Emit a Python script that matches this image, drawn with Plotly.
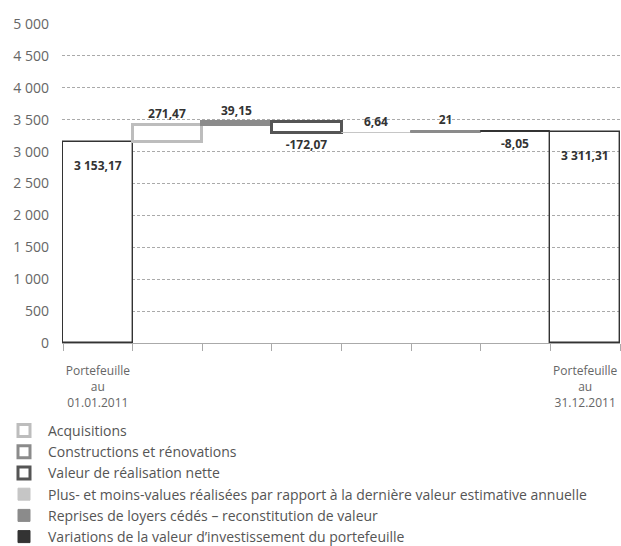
import plotly.graph_objects as go

# ---------------- data ----------------
categories = [
    "Portefeuille au 01.01.2011",
    "Acquisitions",
    "Constructions et rénovations",
    "Valeur de réalisation nette",
    "Plus- et moins-values réalisées par rapport à la dernière valeur estimative annuelle",
    "Reprises de loyers cédés – reconstitution de valeur",
    "Variations de la valeur d’investissement du portefeuille",
    "Portefeuille au 31.12.2011",
]
start_value = 3153.17
changes = [271.47, 39.15, -172.07, 6.64, 21, -8.05]
end_value = 3311.31
x_tick_text = ["Portefeuille<br>au<br>01.01.2011", "", "", "", "", "", "", "Portefeuille<br>au<br>31.12.2011"]
y_tick_values = list(range(0, 5001, 500))

# ---------------- styles ----------------
change_fill = ["white", "white", "white", "#c6c6c6", "#8b8b8b", "#333333"]
change_line = ["#bdbdbd", "#8b8b8b", "#555555", "#c6c6c6", "#8b8b8b", "#333333"]
change_line_w = [3, 3, 3, 1, 1, 1]
FONT = "Open Sans"


def fr(v):
    s = f"{abs(v):,.2f}".replace(",", " ").replace(".", ",")
    if s.endswith(",00"):
        s = s[:-3]
    return ("-" if v < 0 else "") + s


fig = go.Figure()

# opening portfolio
fig.add_trace(go.Bar(
    x=[categories[0]], y=[start_value], base=[0],
    marker=dict(color="white", line=dict(color="#333333", width=1.4)),
    showlegend=False, cliponaxis=False,
))

# changes
running = start_value
for i, d in enumerate(changes):
    fig.add_trace(go.Bar(
        x=[categories[i + 1]], y=[d], base=[running],
        name=categories[i + 1],
        marker=dict(color=change_fill[i], line=dict(color=change_line[i], width=change_line_w[i])),
        text=[fr(d)], textposition="outside",
        textfont=dict(family=FONT, size=12, color="#333333", weight="bold"),
        cliponaxis=False,
    ))
    running += d

# closing portfolio
fig.add_trace(go.Bar(
    x=[categories[-1]], y=[end_value], base=[0],
    marker=dict(color="rgba(0,0,0,0)", line=dict(color="#333333", width=1.4)),
    showlegend=False, cliponaxis=False,
))

for cat, v in [(categories[0], start_value), (categories[-1], end_value)]:
    fig.add_annotation(
        x=cat, y=v, text=fr(v), showarrow=False, yanchor="top", yshift=-13,
        font=dict(family=FONT, size=12, color="#333333", weight="bold"),
    )

fig.update_layout(
    width=621, height=546,
    margin=dict(l=62, r=1, t=24, b=203, autoexpand=False),
    paper_bgcolor="white", plot_bgcolor="white",
    barmode="overlay", bargap=0,
    separators=", ",
    font=dict(family=FONT, color="#666666"),
    legend=dict(
        x=0, y=1 - 415 / 546, xref="container", yref="container",
        xanchor="left", yanchor="top",
        font=dict(family=FONT, size=14, color="#555555"),
        itemwidth=38, traceorder="normal",
        bgcolor="rgba(0,0,0,0)",
    ),
    xaxis=dict(
        type="category", categoryorder="array", categoryarray=categories,
        range=[-0.515, len(categories) - 0.5],
        tickmode="array", tickvals=categories, ticktext=x_tick_text,
        tickson="boundaries", ticks="outside", ticklen=7, tickcolor="#aaaaaa",
        showline=True, linecolor="#aaaaaa", linewidth=1,
        showgrid=False, zeroline=False, tickangle=0,
        tickfont=dict(family=FONT, size=12, color="#666666"),
        ticklabelstandoff=17, automargin=False,
    ),
    yaxis=dict(
        range=[0, 5000], tickmode="array", tickvals=y_tick_values,
        tickformat=",d",
        showgrid=True, gridcolor="#aaaaaa", griddash="3px,2px", gridwidth=1,
        zeroline=False, showline=False, ticks="",
        tickfont=dict(family=FONT, size=14, color="#666666"),
        ticklabelstandoff=12, automargin=False,
    ),
)

fig.write_html(
    "out.html",
    config={"displayModeBar": False},
    post_script="document.body.style.margin='0';",
)
